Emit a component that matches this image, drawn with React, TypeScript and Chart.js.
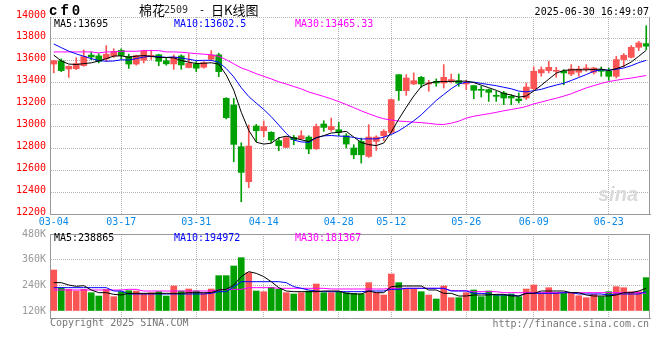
import React, { useEffect, useRef } from 'react';
import { Chart, registerables } from 'chart.js';
Chart.register(...registerables);

const dates = [
  '03-04','03-05','03-06','03-07','03-10','03-11','03-12','03-13','03-14','03-17',
  '03-18','03-19','03-20','03-21','03-24','03-25','03-26','03-27','03-28','03-31',
  '04-01','04-02','04-03','04-07','04-08','04-09','04-10','04-11','04-14','04-15',
  '04-16','04-17','04-18','04-21','04-22','04-23','04-24','04-25','04-28','04-29',
  '04-30','05-06','05-07','05-08','05-09','05-12','05-13','05-14','05-15','05-16',
  '05-19','05-20','05-21','05-22','05-23','05-26','05-27','05-28','05-29','05-30',
  '06-03','06-04','06-05','06-06','06-09','06-10','06-11','06-12','06-13','06-16',
  '06-17','06-18','06-19','06-20','06-23','06-24','06-25','06-26','06-27','06-30'
];
const tickDates = ['03-04','03-17','03-31','04-14','04-28','05-12','05-26','06-09','06-23'];

const opens = [
  13570,13599,13525,13528,13556,13652,13645,13617,13645,13695,
  13640,13570,13605,13641,13655,13600,13571,13644,13538,13571,
  13541,13614,13654,13257,13196,12815,12495,13004,12961,12946,
  12870,12809,12900,12888,12903,12796,13022,12970,12970,12915,
  12803,12863,12726,12863,12915,12946,13473,13327,13388,13449,
  13388,13412,13397,13412,13418,13388,13373,13336,13336,13281,
  13306,13275,13251,13260,13345,13489,13510,13504,13504,13479,
  13495,13525,13495,13519,13504,13458,13611,13632,13723,13757
];
const highs = [
  13605,13617,13555,13628,13699,13680,13665,13738,13710,13710,
  13660,13652,13697,13697,13660,13628,13654,13654,13663,13593,
  13593,13693,13669,13263,13257,12851,13013,13019,13050,12952,
  12897,12906,12918,12961,12915,13022,13052,13077,13037,12934,
  12833,12894,13016,12915,12970,13251,13473,13473,13489,13458,
  13421,13434,13565,13479,13479,13421,13373,13367,13342,13321,
  13321,13290,13306,13397,13544,13544,13595,13540,13519,13565,
  13550,13565,13540,13544,13534,13641,13666,13739,13778,13920
];
const lows = [
  13490,13501,13448,13519,13550,13610,13580,13595,13630,13615,
  13530,13560,13580,13612,13555,13560,13522,13522,13535,13501,
  13532,13602,13455,13068,12678,12312,12440,12861,12906,12851,
  12778,12806,12833,12879,12751,12790,12955,12955,12915,12803,
  12705,12665,12717,12781,12870,12934,13238,13284,13382,13357,
  13321,13367,13351,13397,13367,13336,13254,13269,13229,13229,
  13199,13199,13214,13245,13336,13458,13489,13449,13382,13464,
  13458,13504,13479,13458,13421,13443,13544,13626,13693,13702
];
const closes = [
  13600,13510,13549,13574,13638,13635,13595,13660,13685,13648,
  13570,13648,13688,13647,13595,13572,13632,13562,13577,13532,
  13583,13654,13501,13080,12836,12580,12821,12961,12998,12876,
  12824,12897,12879,12915,12794,13000,12991,13000,12946,12839,
  12741,12741,12903,12903,12955,13245,13327,13443,13418,13388,
  13397,13397,13449,13428,13394,13403,13330,13330,13312,13275,
  13260,13260,13235,13360,13504,13519,13540,13510,13489,13525,
  13525,13534,13534,13504,13458,13611,13650,13723,13763,13733
];
const ma5 = [
  13652,13598,13570,13566,13574,13581,13598,13620,13643,13645,
  13632,13642,13648,13640,13630,13630,13627,13602,13588,13575,
  13577,13582,13569,13470,13331,13130,12964,12856,12839,12847,
  12896,12911,12895,12878,12862,12897,12916,12940,12946,12955,
  12903,12853,12834,12825,12849,12949,13067,13175,13278,13364,
  13395,13409,13410,13412,13413,13414,13401,13377,13354,13330,
  13301,13287,13268,13278,13324,13376,13432,13487,13512,13517,
  13518,13517,13521,13524,13511,13528,13551,13589,13641,13696
];
const ma10 = [
  13754,13720,13688,13663,13641,13620,13602,13596,13598,13609,
  13606,13620,13634,13641,13637,13631,13635,13625,13614,13602,
  13604,13604,13586,13529,13453,13354,13273,13213,13155,13089,
  13013,12937,12875,12859,12855,12897,12914,12917,12912,12909,
  12900,12885,12887,12886,12902,12926,12960,13004,13052,13106,
  13172,13238,13292,13345,13389,13404,13405,13393,13383,13372,
  13358,13344,13323,13316,13327,13339,13360,13378,13395,13420,
  13447,13474,13504,13518,13514,13523,13534,13555,13583,13604
];
const ma30 = [
  13681,13681,13681,13681,13681,13681,13672,13681,13681,13687,
  13687,13687,13693,13693,13693,13681,13681,13678,13672,13665,
  13660,13655,13640,13610,13572,13535,13510,13482,13458,13434,
  13408,13387,13365,13343,13315,13294,13274,13252,13227,13200,
  13172,13142,13116,13091,13070,13059,13049,13045,13039,13035,
  13028,13020,13018,13030,13048,13076,13093,13105,13116,13129,
  13143,13155,13167,13182,13206,13223,13241,13258,13277,13299,
  13326,13352,13373,13393,13410,13422,13433,13442,13454,13465
];
const volumes = [
  311700,228900,221400,213500,221400,205500,190100,221400,186900,210200,
  214900,213500,199500,205500,210200,190100,236900,213500,222800,213500,
  202700,222800,285200,285200,330400,369300,299200,213500,210200,230800,
  221400,205500,199500,205500,213500,246200,205500,205500,210200,205500,
  202700,199500,252500,205500,194800,293000,252500,222800,222800,210200,
  194800,176100,236900,182200,182200,205500,218200,186900,213500,194800,
  194800,199500,186900,222800,241500,202700,228900,205500,202700,202700,
  191500,182200,198100,186900,210200,233600,228900,210200,210200,275900
];
const volMa5 = [
  252500,252500,241500,235300,238400,218200,205700,205700,197900,194800,
  202600,202600,202600,202600,202600,202600,202600,202600,205700,205700,
  205700,205700,218200,221300,241500,280500,303900,296100,280500,257100,
  229100,213500,210400,210400,210400,210400,213500,213500,213500,202600,
  199500,199500,213500,205700,205700,233800,236900,236900,236900,236900,
  218200,218200,202600,202600,190100,190100,194800,194800,194800,197900,
  197900,190100,190100,202600,202600,213500,213500,213500,213500,205700,
  205700,194800,190100,190100,190100,194800,205700,205700,213500,226000
];
const volMa10 = [
  229100,229100,229100,229100,229100,229100,229100,229100,213500,213500,
  199500,199500,199500,199500,199500,199500,199500,199500,199500,199500,
  199500,202600,210400,210400,233800,257100,257100,257100,257100,257100,
  257100,252500,233800,226000,218200,213500,210400,210400,210400,210400,
  210400,210400,213500,213500,213500,221300,221300,226000,226000,226000,
  226000,226000,226000,213500,213500,213500,202600,202600,199500,194800,
  194800,194800,190100,202600,202600,202600,202600,202600,205700,205700,
  199500,199500,199500,199500,194800,199500,199500,199500,199500,210400
];
const volMa30 = [
  218200,218200,218200,218200,218200,218200,218200,218200,218200,218200,
  221300,221300,213500,213500,213500,213500,213500,213500,213500,213500,
  213500,213500,218200,221300,221300,221300,229100,229100,229100,229100,
  226000,226000,226000,226000,226000,226000,226000,222900,222900,222900,
  222900,222900,222900,222900,222900,226000,226000,226000,226000,226000,
  226000,226000,226000,215100,215100,215100,210400,210400,210400,210400,
  205700,205700,205700,205700,205700,205700,205700,205700,205700,205700,
  205700,205700,205700,205700,205700,205700,205700,205700,205700,202600
];

const priceMin = 12200;
const priceMax = 14000;
const priceStep = 200;
const volTickValues = [120000, 240000, 360000, 480000];
const volBase = 120000;

const priceLegend = ['MA5:13695', 'MA10:13602.5', 'MA30:13465.33'];
const volLegend = ['MA5:238865', 'MA10:194972', 'MA30:181367'];

const UP = '#fa5555';
const DOWN = '#00a000';
const GRID = '#b4b4b4';
const FRAME = '#999999';
const MONO = "'DejaVu Sans Mono', monospace";
const DATE_BLUE = '#0a88e8';

const candleColors = closes.map((c, i) => (c >= opens[i] ? UP : DOWN));
const tickIndices = dates.map((d, i) => (tickDates.includes(d) ? i : -1)).filter((i) => i >= 0);

const framePlugin = (solidTop: boolean) => ({
  id: 'frame' + (solidTop ? 'V' : 'P'),
  afterDraw(chart: any) {
    const { ctx, chartArea } = chart;
    const { left, right, top, bottom } = chartArea;
    ctx.save();
    ctx.strokeStyle = FRAME;
    ctx.lineWidth = 1;
    ctx.beginPath();
    const r = Math.round(right) - 0.5;
    ctx.moveTo(r, Math.round(top));
    ctx.lineTo(r, Math.round(bottom));
    if (solidTop) {
      const t = Math.round(top) + 0.5;
      ctx.moveTo(Math.round(left), t);
      ctx.lineTo(Math.round(right), t);
    }
    ctx.stroke();
    ctx.restore();
  },
});

const xAxisBase = (showLabels: boolean, height: number) => ({
  type: 'category' as const,
  offset: true,
  grid: {
    offset: false,
    drawTicks: false,
    color: (c: any) => (c.tick && c.tick.value === 0 ? 'rgba(0,0,0,0)' : GRID),
  },
  border: { display: true, color: FRAME, dash: [1, 1] },
  afterBuildTicks: (scale: any) => {
    scale.ticks = tickIndices.map((v) => ({ value: v }));
  },
  afterFit: (scale: any) => {
    scale.height = height;
  },
  ticks: {
    display: showLabels,
    autoSkip: false,
    maxRotation: 0,
    color: DATE_BLUE,
    padding: 2,
    font: { family: MONO, size: 10 },
    callback: (v: any) => dates[v],
  },
});

function Txt(props: { x: number; y: number; color?: string; right?: boolean; children: any; style?: any }) {
  const s: any = {
    position: 'absolute',
    top: props.y - 6,
    lineHeight: '12px',
    fontFamily: MONO,
    fontSize: 10,
    color: props.color || '#000',
    whiteSpace: 'pre',
  };
  if (props.right) s.right = 660 - props.x;
  else s.left = props.x;
  return <div style={{ ...s, ...(props.style || {}) }}>{props.children}</div>;
}

export default function App() {
  const priceRef = useRef<HTMLCanvasElement>(null);
  const volRef = useRef<HTMLCanvasElement>(null);

  useEffect(() => {
    const line = (data: number[], color: string) => ({
      type: 'line' as const,
      data,
      borderColor: color,
      borderWidth: 1,
      pointRadius: 0,
      tension: 0,
      fill: false,
      order: 0,
    });

    const priceChart = new Chart(priceRef.current as HTMLCanvasElement, {
      type: 'bar',
      data: {
        labels: dates,
        datasets: [
          {
            type: 'bar',
            data: lows.map((l, i) => [l, highs[i]]) as any,
            backgroundColor: candleColors,
            barThickness: 1,
            grouped: false,
            borderWidth: 0,
            order: 2,
          } as any,
          {
            type: 'bar',
            data: opens.map((o, i) => [o, closes[i]]) as any,
            backgroundColor: candleColors,
            barThickness: 6,
            grouped: false,
            borderWidth: 0,
            minBarLength: 1,
            order: 1,
          } as any,
          line(ma5, '#000000'),
          line(ma10, '#0000ff'),
          line(ma30, '#ff00ff'),
        ],
      },
      options: {
        responsive: false,
        animation: false,
        devicePixelRatio: 1,
        events: [],
        layout: { padding: { top: 17, right: 10, left: 0, bottom: 0 } },
        plugins: { legend: { display: false }, tooltip: { enabled: false } },
        scales: {
          x: xAxisBase(true, 146) as any,
          y: {
            min: priceMin,
            max: priceMax,
            grid: { color: GRID, drawTicks: false },
            border: { display: true, color: FRAME, dash: [1, 1] },
            afterFit: (scale: any) => {
              scale.width = 50;
            },
            ticks: {
              stepSize: priceStep,
              color: '#ff0000',
              padding: 4,
              labelOffset: -2,
              font: { family: MONO, size: 10 },
              callback: (v: any) => String(Math.round(Number(v))),
            },
          },
        },
      },
      plugins: [framePlugin(false)],
    });

    const volChart = new Chart(volRef.current as HTMLCanvasElement, {
      type: 'bar',
      data: {
        labels: dates,
        datasets: [
          {
            type: 'bar',
            data: volumes,
            base: volBase,
            backgroundColor: candleColors,
            barThickness: 6,
            grouped: false,
            borderWidth: 0,
            order: 1,
          } as any,
          line(volMa5, '#000000'),
          line(volMa10, '#0000ff'),
          line(volMa30, '#ff00ff'),
        ],
      },
      options: {
        responsive: false,
        animation: false,
        devicePixelRatio: 1,
        events: [],
        layout: { padding: { top: 234, right: 10, left: 0, bottom: 0 } },
        plugins: { legend: { display: false }, tooltip: { enabled: false } },
        scales: {
          x: xAxisBase(false, 42) as any,
          y: {
            min: volBase - 7 * (360000 / 77),
            max: 480000,
            grid: {
              drawTicks: false,
              color: (c: any) => (c.tick && c.tick.value === volBase ? 'rgba(0,0,0,0)' : GRID),
            },
            border: { display: true, color: FRAME, dash: [1, 1] },
            afterFit: (scale: any) => {
              scale.width = 50;
            },
            afterBuildTicks: (scale: any) => {
              scale.ticks = volTickValues.map((v) => ({ value: v }));
            },
            ticks: {
              color: '#999999',
              padding: 4,
              font: { family: MONO, size: 10 },
              callback: (v: any) => Math.round(Number(v) / 1000) + 'K',
            },
          },
        },
      },
      plugins: [framePlugin(true)],
    });

    return () => {
      priceChart.destroy();
      volChart.destroy();
    };
  }, []);

  const cjk = "'Noto Sans CJK SC', sans-serif";

  return (
    <div
      style={{
        position: 'fixed',
        left: 0,
        top: 0,
        width: 660,
        height: 360,
        background: '#ffffff',
        overflow: 'hidden',
      }}
    >
      <canvas ref={priceRef} width={660} height={360} style={{ position: 'absolute', left: 0, top: 0 }} />
      <canvas ref={volRef} width={660} height={360} style={{ position: 'absolute', left: 0, top: 0 }} />

      <div
        style={{
          position: 'absolute',
          left: 598,
          top: 184,
          fontFamily: "'Liberation Sans', sans-serif",
          fontWeight: 'bold',
          fontStyle: 'italic',
          fontSize: 20,
          lineHeight: '20px',
          color: '#dadada',
        }}
      >
        sina
      </div>

      <div
        style={{
          position: 'absolute',
          left: 49,
          top: 4,
          fontFamily: "'Liberation Mono', monospace",
          fontWeight: 'bold',
          fontSize: 14,
          lineHeight: '14px',
          letterSpacing: '3px',
          color: '#000',
        }}
      >
        cf0
      </div>
      <div style={{ position: 'absolute', left: 139, top: 3, fontFamily: cjk, fontSize: 13, lineHeight: '13px', color: '#000', whiteSpace: 'pre' }}>
        棉花
      </div>
      <Txt x={164} y={10} color="#333">2509</Txt>
      <Txt x={199} y={10}>-</Txt>
      <div style={{ position: 'absolute', left: 211, top: 3, fontFamily: cjk, fontSize: 13, lineHeight: '13px', color: '#000', whiteSpace: 'pre' }}>
        日K线图
      </div>
      <Txt x={649} y={12} right>2025-06-30 16:49:07</Txt>

      <Txt x={54} y={24}>{priceLegend[0]}</Txt>
      <Txt x={174} y={24} color="#0000ff">{priceLegend[1]}</Txt>
      <Txt x={295} y={24} color="#ff00ff">{priceLegend[2]}</Txt>

      <Txt x={54} y={238}>{volLegend[0]}</Txt>
      <Txt x={174} y={238} color="#0000ff">{volLegend[1]}</Txt>
      <Txt x={295} y={238} color="#ff00ff">{volLegend[2]}</Txt>

      <Txt x={50} y={323} color="#777">Copyright 2025 SINA.COM</Txt>
      <Txt x={649} y={324} color="#777" right>http://finance.sina.com.cn</Txt>
    </div>
  );
}
